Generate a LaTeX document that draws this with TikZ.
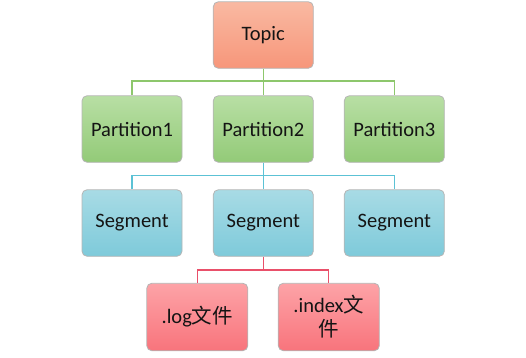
\documentclass[tikz,border=0pt]{standalone}
\usepackage{fontspec}
\setmainfont{Carlito}
\newfontfamily\cjk{Noto Sans CJK SC}
\definecolor{topT}{HTML}{F9B9A2}
\definecolor{topB}{HTML}{F7967A}
\definecolor{grT}{HTML}{B8DFA4}
\definecolor{grB}{HTML}{93CA78}
\definecolor{cyT}{HTML}{A8DBE5}
\definecolor{cyB}{HTML}{7ECADA}
\definecolor{rdT}{HTML}{FDA3A7}
\definecolor{rdB}{HTML}{F8747C}
\definecolor{grL}{HTML}{8DC76C}
\definecolor{cyL}{HTML}{5CC2D5}
\definecolor{rdL}{HTML}{E9506A}
\definecolor{bord}{HTML}{B5B5B5}
\tikzset{
  box/.style={draw=bord, line width=0.8pt, rounded corners=5pt, minimum width=100pt, minimum height=66.5pt, inner sep=0pt, font=\fontsize{20.5}{24}\selectfont, text=black!92, align=center},
  topicbox/.style={box, top color=topT, bottom color=topB},
  partbox/.style={box, top color=grT, bottom color=grB},
  segbox/.style={box, top color=cyT, bottom color=cyB},
  filebox/.style={box, top color=rdT, bottom color=rdB, minimum width=101pt, minimum height=67.5pt},
  conn/.style={line width=1.3pt}
}
\begin{document}
\begin{tikzpicture}[x=1pt,y=-1pt]
\useasboundingbox (0,0) rectangle (526,357);
\node[topicbox] (topic) at (263.3,35) {Topic};
\node[partbox] (p1) at (132,129) {Partition1};
\node[partbox] (p2) at (263.3,129) {Partition2};
\node[partbox] (p3) at (394.3,129) {Partition3};
\node[segbox] (s1) at (132,223) {Segment};
\node[segbox] (s2) at (263.3,223) {Segment};
\node[segbox] (s3) at (394.3,223) {Segment};
\node[filebox] (f1) at (197.3,317) {.log{\cjk 文件}};
\node[filebox] (f2) at (328.8,317) {.index{\cjk 文}\\{\cjk 件}};
% green connectors
\coordinate (gy) at (0,81);
\draw[conn, grL] (topic.south) -- (p2.north);
\draw[conn, grL] (p1.north) |- (topic.south |- gy) -| (p3.north);
% cyan connectors
\coordinate (cy) at (0,175.7);
\draw[conn, cyL] (p2.south) -- (s2.north);
\draw[conn, cyL] (s1.north) |- (p2.south |- cy) -| (s3.north);
% red connectors
\coordinate (ry) at (0,270);
\draw[conn, rdL] (s2.south) -- (s2.south |- ry);
\draw[conn, rdL] (f1.north) |- (s2.south |- ry) -| (f2.north);
\end{tikzpicture}
\end{document}
